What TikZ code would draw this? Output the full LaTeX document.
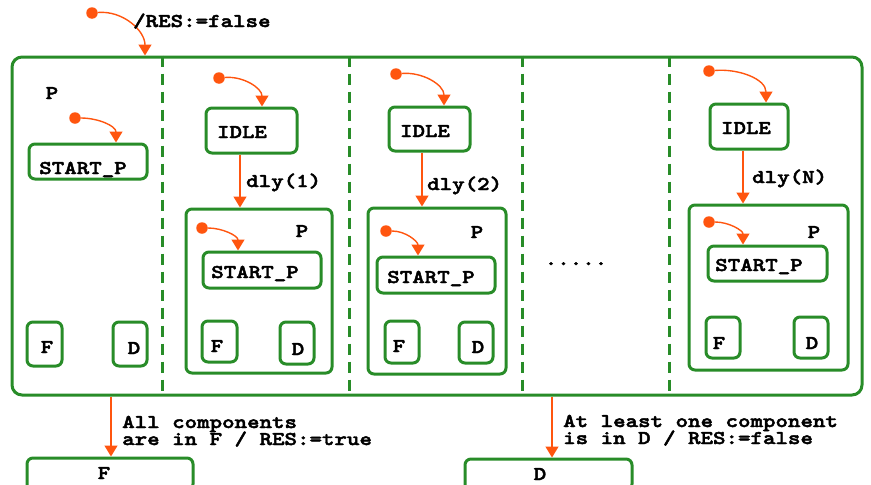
\documentclass[tikz,border=0pt]{standalone}
\usepackage{fontspec}
\newfontfamily\cour{lmmonolt10-bold.otf}[FakeStretch=1.22,FakeBold=2.4]
\usetikzlibrary{arrows.meta}
\definecolor{grn}{RGB}{40,140,40}
\definecolor{org}{RGB}{255,85,15}
\begin{document}
\begin{tikzpicture}[x=1pt,y=-1pt,
  box/.style={draw=grn,line width=3pt,rounded corners=6pt,inner sep=0pt},
  sepline/.style={draw=grn,line width=3pt,dash pattern=on 11pt off 7pt},
  tr/.style={draw=org,line width=1.4pt,-{Triangle[width=13pt,length=11pt]}},
  ini/.style={circle,fill=org,inner sep=0pt,minimum size=11.5pt},
  txt/.style={inner sep=0pt,anchor=base,font=\cour\fontsize{19.5}{17}\selectfont},
  lbl/.style={inner sep=0pt,anchor=base west,align=left,font=\cour\fontsize{19.5}{17}\selectfont,execute at begin node={\lineskiplimit=-100pt}},
]
\useasboundingbox (0,0) rectangle (871,485);

% outer composite state
\node[box,rounded corners=10pt,minimum width=850pt,minimum height=338pt] (outer) at (437,226) {};
\coordinate (s1) at (162,0);
\coordinate (s2) at (349,0);
\coordinate (s3) at (522,0);
\coordinate (s4) at (669,0);
\draw[sepline] (outer.north -| s1) -- (outer.south -| s1);
\draw[sepline] (outer.north -| s2) -- (outer.south -| s2);
\draw[sepline] (outer.north -| s3) -- (outer.south -| s3);
\draw[sepline] (outer.north -| s4) -- (outer.south -| s4);

% top initial transition
\node[ini] (i0) at (92,13) {};
\coordinate (xi0) at (145,0);
\draw[tr] (i0) to[out=5,in=90] (outer.north -| xi0);
\node[lbl] (l0) at (133,27) {/RES:=false};

% ---- column 1
\node[txt] (p1) at (52,99) {P};
\node[box,minimum width=118pt,minimum height=35pt] (sp1) at (88,161.5) {};
\node[txt] (tsp1) at (83,174) {START\_P};
\node[ini] (i1) at (75,118) {};
\coordinate (xi1) at (116,0);
\draw[tr] (i1) to[out=0,in=90] (sp1.north -| xi1);
\node[box,minimum width=35pt,minimum height=44pt] (f1) at (44.5,344) {};
\node[txt] (tf1) at (47,353) {F};
\node[box,minimum width=34pt,minimum height=44pt] (d1) at (130,344) {};
\node[txt] (td1) at (134,354) {D};

% ---- column 2
\node[box,minimum width=91pt,minimum height=45pt] (idle2) at (251.5,130.5) {};
\node[txt] (tidle2) at (242,138) {IDLE};
\node[ini] (i2) at (219,78) {};
\coordinate (xi2) at (262,0);
\draw[tr] (i2) to[out=5,in=90] (idle2.north -| xi2);
\node[box,minimum width=146pt,minimum height=164pt] (p2) at (259,291) {};
\coordinate (x2) at (240,0);
\draw[tr] (idle2.south -| x2) -- (p2.north -| x2);
\node[lbl] (dly1) at (246,187) {dly(1)};
\node[txt] (tp2) at (302,237) {P};
\node[box,minimum width=118pt,minimum height=36pt] (sp2) at (262,270) {};
\node[txt] (tsp2) at (255,278) {START\_P};
\node[ini] (i3) at (202,228) {};
\coordinate (xi3) at (238,0);
\draw[tr] (i3) to[out=0,in=90] (sp2.north -| xi3);
\node[box,minimum width=35pt,minimum height=41pt] (f2) at (219.5,341.5) {};
\node[txt] (tf2) at (217,352) {F};
\node[box,minimum width=34pt,minimum height=42pt] (d2) at (297,343) {};
\node[txt] (td2) at (298,355) {D};

% ---- column 3
\node[box,minimum width=81pt,minimum height=44pt] (idle3) at (429.5,129) {};
\node[txt] (tidle3) at (425,137) {IDLE};
\node[ini] (i4) at (396,74) {};
\coordinate (xi4) at (444,0);
\draw[tr] (i4) to[out=5,in=90] (idle3.north -| xi4);
\node[box,minimum width=138pt,minimum height=166pt] (p3) at (437,291) {};
\coordinate (x3) at (422,0);
\draw[tr] (idle3.south -| x3) -- (p3.north -| x3);
\node[lbl] (dly2) at (427,190) {dly(2)};
\node[txt] (tp3) at (477,238) {P};
\node[box,minimum width=118pt,minimum height=36pt] (sp3) at (436,275) {};
\node[txt] (tsp3) at (431,283) {START\_P};
\node[ini] (i5) at (386,231) {};
\coordinate (xi5) at (418,0);
\draw[tr] (i5) to[out=0,in=90] (sp3.north -| xi5);
\node[box,minimum width=34pt,minimum height=42pt] (f3) at (402,342) {};
\node[txt] (tf3) at (399,352) {F};
\node[box,minimum width=34pt,minimum height=41pt] (d3) at (476,342.5) {};
\node[txt] (td3) at (478,353) {D};

% ---- column 4
\node[txt] (dots) at (576,265) {.....};

% ---- column 5
\node[box,minimum width=78pt,minimum height=45pt] (idle5) at (749,126.5) {};
\node[txt] (tidle5) at (746,134) {IDLE};
\node[ini] (i6) at (709,71) {};
\coordinate (xi6) at (766,0);
\draw[tr] (i6) to[out=5,in=90] (idle5.north -| xi6);
\node[box,minimum width=159pt,minimum height=165pt] (p5) at (768.5,287.5) {};
\coordinate (x5) at (743,0);
\draw[tr] (idle5.south -| x5) -- (p5.north -| x5);
\node[lbl] (dlyn) at (752,183) {dly(N)};
\node[txt] (tp5) at (814,238) {P};
\node[box,minimum width=119pt,minimum height=35pt] (sp5) at (767.5,263.5) {};
\node[txt] (tsp5) at (759,271) {START\_P};
\node[ini] (i7) at (709,222) {};
\coordinate (xi7) at (743,0);
\draw[tr] (i7) to[out=0,in=90] (sp5.north -| xi7);
\node[box,minimum width=34pt,minimum height=41pt] (f5) at (723,337.5) {};
\node[txt] (tf5) at (719,349) {F};
\node[box,minimum width=34pt,minimum height=41pt] (d5) at (811,337.5) {};
\node[txt] (td5) at (812,349) {D};

% ---- bottom states
\node[box,minimum width=166pt,minimum height=32pt] (fb) at (110,474) {};
\node[txt] (tfb) at (104,479) {F};
\coordinate (xb1) at (111,0);
\draw[tr] (outer.south -| xb1) -- (fb.north -| xb1);
\node[lbl] (lb1) at (122,445) {All components\\are in F / RES:=true};

\node[box,minimum width=167pt,minimum height=31pt] (db) at (548.5,474.5) {};
\node[txt] (tdb) at (540,480) {D};
\coordinate (xb2) at (552,0);
\draw[tr] (outer.south -| xb2) -- (db.north -| xb2);
\node[lbl] (lb2) at (563,444) {At least one component\\is in D / RES:=false};
\end{tikzpicture}
\end{document}
